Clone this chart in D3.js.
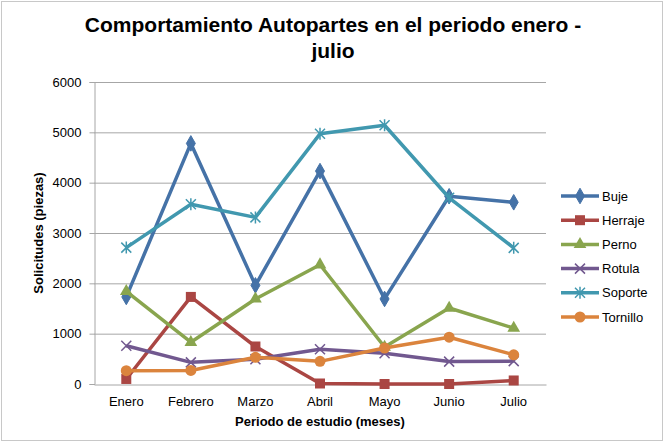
<!DOCTYPE html>
<html><head><meta charset="utf-8">
<script src="https://cdn.jsdelivr.net/npm/d3@7"></script>
<style>body{margin:0;background:#fff}svg{display:block;font-family:"Liberation Sans",Arial,sans-serif}</style>
</head><body><svg id="c" width="667" height="444"></svg>
<script>
const months = ["Enero","Febrero","Marzo","Abril","Mayo","Junio","Julio"];
const buje     = [1730, 4780, 1960, 4230, 1690, 3730, 3610];
const herraje  = [100, 1730, 745, 10, 0, 0, 70];
const perno    = [1840, 830, 1690, 2370, 735, 1510, 1110];
const rotula   = [760, 430, 490, 690, 610, 445, 455];
const soporte  = [2710, 3570, 3310, 4970, 5140, 3700, 2705];
const tornillo = [265, 270, 530, 450, 715, 930, 580];
const seriesNames = ["Buje","Herraje","Perno","Rotula","Soporte","Tornillo"];
const yTicks = [0,1000,2000,3000,4000,5000,6000];

const series = [
  {name:"Buje", values:buje, color:"#4572A7", marker:"diamond"},
  {name:"Herraje", values:herraje, color:"#AA4643", marker:"square"},
  {name:"Perno", values:perno, color:"#89A54E", marker:"triangle"},
  {name:"Rotula", values:rotula, color:"#71588F", marker:"x"},
  {name:"Soporte", values:soporte, color:"#4198AF", marker:"star"},
  {name:"Tornillo", values:tornillo, color:"#DB843D", marker:"circle"}
];

const svg = d3.select("#c");
const m = {left:94, right:546, top:82, bottom:384};
const x = d3.scaleBand().domain(months).range([m.left, m.right]);
const y = d3.scaleLinear().domain([0,6000]).range([m.bottom, m.top]);

svg.append("rect").attr("x",1.5).attr("y",1.5).attr("width",661).attr("height",439)
  .attr("fill","#fff").attr("stroke","#c8c8c8");

// title
svg.append("text").attr("x",333).attr("y",32).attr("text-anchor","middle")
  .attr("font-size",21).attr("font-weight","bold").text("Comportamiento Autopartes en el periodo enero -");
svg.append("text").attr("x",333).attr("y",58).attr("text-anchor","middle")
  .attr("font-size",21).attr("font-weight","bold").text("julio");

// grid
svg.append("g").selectAll("line").data(yTicks.filter(d=>d>0)).join("line")
  .attr("x1",m.left).attr("x2",m.right).attr("y1",d=>y(d)+0.5).attr("y2",d=>y(d)+0.5)
  .attr("stroke","#a6a6a6").attr("stroke-width",1);

// y axis
const ya = svg.append("g").attr("transform",`translate(${m.left+0.5},0)`)
  .call(d3.axisLeft(y).tickValues(yTicks).tickSize(5).tickPadding(8).tickFormat(d3.format("d")));
ya.select(".domain").attr("stroke","#a6a6a6");
ya.selectAll(".tick line").attr("stroke","#a6a6a6");
ya.selectAll("text").attr("font-size",13).attr("fill","#000").attr("font-family","Liberation Sans, Arial, sans-serif");

// x axis
const xa = svg.append("g").attr("transform",`translate(0,${m.bottom+0.5})`)
  .call(d3.axisBottom(x).tickSize(0).tickPadding(12));
xa.select(".domain").attr("stroke","#a6a6a6");
xa.selectAll("text").attr("font-size",13).attr("fill","#000").attr("font-family","Liberation Sans, Arial, sans-serif");

// axis titles
svg.append("text").attr("x",(m.left+m.right)/2).attr("y",426).attr("text-anchor","middle")
  .attr("font-size",13).attr("font-weight","bold").text("Periodo de estudio (meses)");
svg.append("text").attr("transform",`translate(43,${(m.top+m.bottom)/2}) rotate(-90)`)
  .attr("text-anchor","middle").attr("font-size",13).attr("font-weight","bold").text("Solicitudes (piezas)");

function drawMarker(g, type, color){
  if(type==="diamond") g.append("path").attr("d",d3.symbol(d3.symbolDiamond, 70)()).attr("fill",color).attr("stroke",color);
  else if(type==="square") g.append("rect").attr("x",-5).attr("y",-5).attr("width",10).attr("height",10).attr("fill",color);
  else if(type==="triangle") g.append("path").attr("d",d3.symbol(d3.symbolTriangle, 70)()).attr("fill",color);
  else if(type==="circle") g.append("circle").attr("r",5.5).attr("fill",color);
  else if(type==="x") g.append("path").attr("d","M-5,-5L5,5M-5,5L5,-5").attr("stroke",color).attr("stroke-width",1.5).attr("fill","none");
  else if(type==="star") g.append("path").attr("d","M-5,-5L5,5M-5,5L5,-5M0,-6L0,6").attr("stroke",color).attr("stroke-width",1.5).attr("fill","none");
}

const line = d3.line().x((d,i)=>x(months[i])+x.bandwidth()/2).y(d=>y(d));
series.forEach(s=>{
  svg.append("path").datum(s.values).attr("d",line).attr("fill","none")
    .attr("stroke",s.color).attr("stroke-width",3.5).attr("stroke-linejoin","round");
  s.values.forEach((v,i)=>{
    const g = svg.append("g").attr("transform",`translate(${x(months[i])+x.bandwidth()/2},${y(v)})`);
    drawMarker(g, s.marker, s.color);
  });
});

// legend
const legY = d3.scalePoint().domain(seriesNames).range([196,317]);
series.forEach(s=>{
  const yy = legY(s.name);
  svg.append("line").attr("x1",561).attr("x2",599).attr("y1",yy).attr("y2",yy)
    .attr("stroke",s.color).attr("stroke-width",3.5);
  const g = svg.append("g").attr("transform",`translate(580,${yy})`);
  drawMarker(g, s.marker, s.color);
  svg.append("text").attr("x",602).attr("y",yy+4.5).attr("font-size",13).text(s.name);
});
</script></body></html>
